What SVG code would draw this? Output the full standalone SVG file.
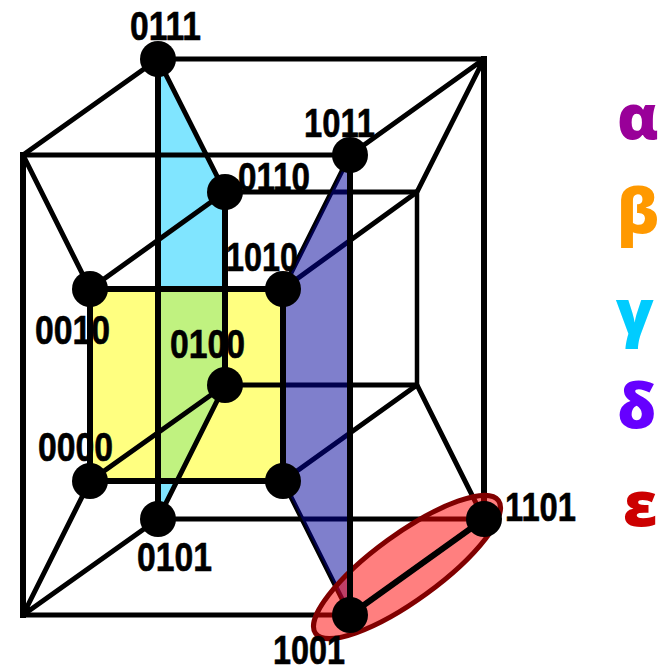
<svg xmlns="http://www.w3.org/2000/svg" width="666" height="667" viewBox="0 0 666 667">
<style>
.e{fill:none;stroke:#000;stroke-width:5}
.v{fill:none;stroke:#000;stroke-width:6;stroke-linecap:square}
.n{fill:#000}
.l{font:bold 40px "Liberation Sans",Arial,sans-serif;fill:#000;stroke:#000;stroke-width:.6}
.g{font-family:"Open Sans",sans-serif;font-weight:800;font-size:62px}
</style>
<rect width="666" height="667" fill="#fff"/>
<g id="regions-back">
<polygon points="158,59 225,192 225,385 158,519" fill="#80e5ff"/>
<rect x="90" y="289" width="193" height="192" fill="#ffff80"/>
<polygon points="158,289 225,289 225,385 177,481 158,481" fill="#c0f280"/>
</g>
<g id="connectors">
<path class="e" d="M158 59H484M158 519H484M23 155H350M23 615H350M225 192H417M225 385H417"/>
<path class="v" d="M484 59V519M23 155V615"/>
<path class="e" stroke-linecap="square" style="stroke-width:4.500" d="M417 192V385"/>
<path class="v" d="M90 289H283V481H90ZM225 192V385"/>
<path class="e" d="M158 59L23 155M484 59L350 155M484 519L350 615M158 519L23 615M90 289L225 192M283 289L417 192M283 481L417 385M90 481L225 385M23 155L90 289M158 59L225 192M484 59L417 192M350 155L283 289M23 615L90 481M158 519L225 385M350 615L283 481M484 519L417 385"/>
<path class="v" d="M158 59V519"/>
</g>
<g id="regions-front">
<polygon points="350,155 283,289 283,481 350,615" fill="#000099" fill-opacity=".5"/>
<ellipse cx="407" cy="567" rx="113" ry="33" transform="rotate(-36 407 567)" fill="#ff0000" fill-opacity=".5" stroke="#800000" stroke-width="5"/>
</g>
<path class="v" d="M283 289V481M350 155V615"/>
<path class="e" style="stroke-width:6" d="M350 615L484 519"/>
<g id="n0111"><circle class="n" cx="158" cy="59" r="18"/><text class="l" x="130" y="40" textLength="71" lengthAdjust="spacingAndGlyphs">0111</text></g>
<g id="n1011"><circle class="n" cx="350" cy="155" r="18"/><text class="l" x="304" y="137" textLength="71" lengthAdjust="spacingAndGlyphs">1011</text></g>
<g id="n0110"><circle class="n" cx="225" cy="192" r="18"/><text class="l" x="238" y="191" textLength="72" lengthAdjust="spacingAndGlyphs">0110</text></g>
<g id="n1010"><circle class="n" cx="283" cy="289" r="18"/><text class="l" x="226" y="271" textLength="72" lengthAdjust="spacingAndGlyphs">1010</text></g>
<g id="n0010"><circle class="n" cx="90" cy="289" r="18"/><text class="l" x="35" y="344" textLength="75" lengthAdjust="spacingAndGlyphs">0010</text></g>
<g id="n0100"><circle class="n" cx="225" cy="385" r="18"/><text class="l" x="170" y="358" textLength="75" lengthAdjust="spacingAndGlyphs">0100</text></g>
<g id="n0000"><circle class="n" cx="90" cy="481" r="18"/><text class="l" x="38" y="461" textLength="75" lengthAdjust="spacingAndGlyphs">0000</text></g>
<g id="n1000"><circle class="n" cx="283" cy="481" r="18"/></g>
<g id="n0101"><circle class="n" cx="158" cy="519" r="18"/><text class="l" x="137" y="571" textLength="75" lengthAdjust="spacingAndGlyphs">0101</text></g>
<g id="n1101"><circle class="n" cx="484" cy="519" r="18"/><text class="l" x="505" y="521" textLength="71" lengthAdjust="spacingAndGlyphs">1101</text></g>
<g id="n1001"><circle class="n" cx="350" cy="615" r="18"/><text class="l" x="273" y="664" textLength="72" lengthAdjust="spacingAndGlyphs">1001</text></g>
<g id="legend">
<text class="g" x="617" y="139" fill="#990099">α</text>
<text class="g" x="617" y="233" fill="#ff9900">β</text>
<text class="g" x="616" y="334" fill="#00ccff">γ</text>
<text class="g" x="617" y="428" fill="#6600ff">δ</text>
<text class="g" x="623" y="526" fill="#cc0000">ε</text>
</g>
</svg>
